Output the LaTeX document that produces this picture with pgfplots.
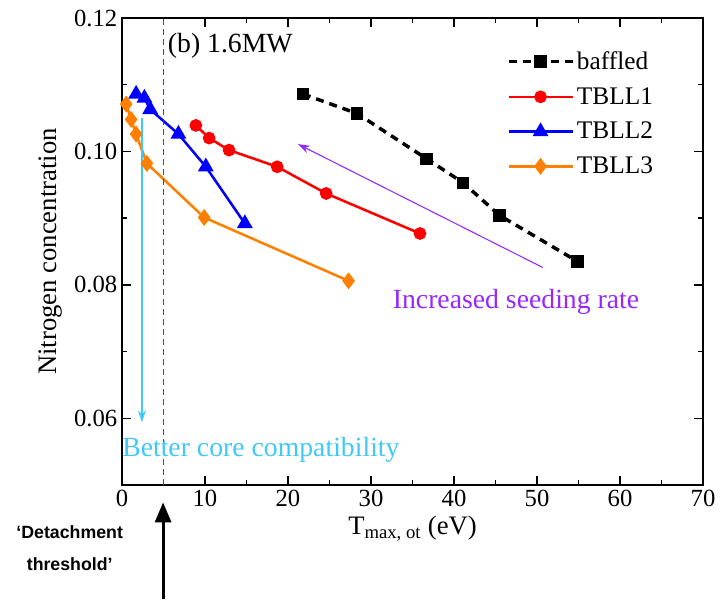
\documentclass[border=0pt]{standalone}
\usepackage{pgfplots}
\pgfplotsset{compat=1.18}
\usepackage{fontspec}
\setmainfont{Liberation Serif}
\newfontfamily\arialfont{Liberation Sans}
\usetikzlibrary{arrows.meta}
\definecolor{tblorange}{RGB}{255,128,0}
\definecolor{cyanc}{RGB}{64,200,248}
\definecolor{purp}{RGB}{150,40,255}
\begin{document}
\begin{tikzpicture}
\begin{axis}[name=ax,
  scale only axis, width=435.75pt, height=350.25pt,
  xmin=0, xmax=70, ymin=0.05, ymax=0.12,
  xtick={0,10,...,70}, minor x tick num=1,
  ytick={0.06,0.08,0.10,0.12}, minor y tick num=1,
  tick align=inside, major tick length=6.75pt, minor tick length=3.4pt,
  axis line style={line width=1.2pt},
  every tick/.style={line width=1pt, black},
  scaled y ticks=false,
  yticklabel style={/pgf/number format/fixed, /pgf/number format/precision=2, /pgf/number format/fixed zerofill},
  /pgf/number format/assume math mode=true,
  ticklabel style={font=\fontsize{18.5}{21}\selectfont},
  xlabel={T\textsubscript{max, ot} (eV)},
  ylabel={Nitrogen concentration},
  ylabel shift=2pt,
  label style={font=\fontsize{20}{24}\selectfont},
  clip=false,
  legend style={at={(0.655,0.94)}, anchor=north west, draw=none, fill=none,
    font=\fontsize{19}{22}\selectfont, row sep=8pt},
  legend cell align=left,
  legend image code/.code={\draw[mark repeat=2,mark phase=2,#1] plot coordinates {(0pt,0pt) (24pt,0pt) (48pt,0pt)};},
]
\addplot[black, line width=2.6pt, dash pattern=on 6pt off 4.5pt, mark=square*, mark size=3.4pt, mark options={solid}]
  coordinates {(21.8,0.1086) (28.3,0.1057) (36.7,0.0989) (41.1,0.0953) (45.5,0.0904) (54.9,0.0835)};
\addlegendentry{baffled}
\addplot[red, line width=1.9pt, mark=*, mark size=3.8pt]
  coordinates {(8.9,0.1039) (10.5,0.1020) (12.9,0.1002) (18.7,0.0977) (24.6,0.0937) (35.9,0.0877)};
\addlegendentry{TBLL1}
\addplot[blue, line width=1.9pt, mark=triangle*, mark size=5pt]
  coordinates {(1.7,0.1086) (2.7,0.1080) (3.4,0.1063) (6.8,0.1026) (10.1,0.0977) (14.8,0.0892)};
\addlegendentry{TBLL2}
\addplot[tblorange, line width=1.9pt, mark=diamond*, mark size=4.8pt]
  coordinates {(0.5,0.1071) (1.1,0.1048) (1.7,0.1026) (3.0,0.0982) (9.9,0.0901) (27.3,0.0806)};
\addlegendentry{TBLL3}
\draw[black!70, line width=0.9pt, dash pattern=on 4.5pt off 3pt] (axis cs:5,0.05) -- (axis cs:5,0.12);
\node[anchor=west, inner sep=0pt, font=\fontsize{20.8}{24}\selectfont] at (axis cs:5.5,0.1159) {(b) 1.6MW};
\draw[purp, line width=0.8pt, -{Stealth[length=9pt,width=6pt]}] (axis cs:50.7,0.0826) -- (axis cs:21.2,0.1011);
\node[anchor=west, inner sep=0pt, text=purp, font=\fontsize{20.8}{24}\selectfont] at (axis cs:32.6,0.0774) {Increased seeding rate};
\draw[cyanc, line width=1.2pt, -{Stealth[length=9pt,width=6pt]}] (axis cs:2.4,0.1050) -- (axis cs:2.4,0.0594);
\node[anchor=west, inner sep=0pt, text=cyanc, font=\fontsize{20.8}{24}\selectfont] at (axis cs:0,0.0553) {Better core compatibility};
\draw[black, line width=2.2pt, -{Triangle[length=15pt,width=12pt]}] (axis cs:4.95,0.03286) -- (axis cs:4.95,0.0474);
\node[align=center, font=\arialfont\bfseries\fontsize{13.3}{24}\selectfont, inner sep=0pt] at (axis cs:-6.3,0.0405) {‘Detachment\\threshold’};
\end{axis}
\path ([shift={(-91.5pt,-85.5pt)}]ax.south west) rectangle ([shift={(452.25pt,363.75pt)}]ax.south west);
\end{tikzpicture}
\end{document}
